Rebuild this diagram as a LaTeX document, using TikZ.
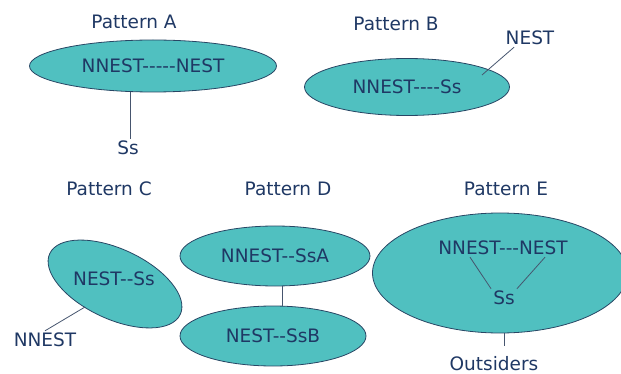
\documentclass[tikz,border=0pt]{standalone}
\usepackage{fontspec}
\setmainfont{DejaVu Sans}[Ligatures=TeXOff]
\usetikzlibrary{shapes.geometric}
\definecolor{tealfill}{RGB}{80,192,192}
\definecolor{navytext}{RGB}{31,56,100}
\definecolor{rimline}{RGB}{40,70,100}
\definecolor{linkline}{RGB}{70,85,110}
\begin{document}
\begin{tikzpicture}[x=1pt,y=-1pt,font=\fontsize{18.5}{20}\selectfont,text=navytext]
	\clip (0,0) rectangle (621,374);

	% the groups
	\begin{scope}[every node/.style={ellipse,draw=rimline,line width=0.8pt,fill=tealfill,inner sep=0pt}]
		\node[minimum width=247,minimum height=52] (A) at (153,66) {NNEST-----NEST};
		\node[minimum width=205,minimum height=57] (B) at (407,87) {NNEST----Ss};
		\node[minimum width=144,minimum height=70,rotate=-25] (C) at (115,284) {};
		\node[minimum width=190,minimum height=60] (Dtop) at (275,256) {NNEST--SsA};
		\node[minimum width=186,minimum height=60] (Dbot) at (273,336) {NEST--SsB};
		\node[minimum width=255,minimum height=120] (E) at (500,273) {};
	\end{scope}

	% titles and loose labels
	\begin{scope}[every node/.style={inner sep=2pt}]
		\node (titleA) at (134,22) {Pattern A};
		\node (titleB) at (396,24) {Pattern B};
		\node (titleC) at (109,189) {Pattern C};
		\node (titleD) at (288,189) {Pattern D};
		\node (titleE) at (506,189) {Pattern E};

		\node (Ass) at (128,148) {Ss};
		\node (Bnest) at (530,38) {NEST};
		\node (Cin) at (114,279) {NEST--Ss};
		\node (Cnnest) at (45,340) {NNEST};
		\node (Etop) at (503,248) {NNEST---NEST};
		\node (Ess) at (504,298) {Ss};
		\node (Eout) at (494,364) {Outsiders};
	\end{scope}

	% free ends
	\coordinate (a1) at (130,92);
	\coordinate (b1) at (482,75);
	\coordinate (c1) at (85,307);
	\coordinate (e1) at (504,346);

	\begin{scope}[every edge/.style={draw=linkline, line width=0.8pt}]
		\path (a1) edge (a1 |- Ass.north);
		\path (b1) edge (Bnest.210);
		\path (c1) edge (Cnnest.north);
		\path ([xshift=7pt]Dtop.south) edge ([xshift=9pt]Dbot.north);
		\path ([xshift=-33pt]Etop.south) edge (Ess.north west);
		\path ([xshift=42pt]Etop.south) edge (Ess.north east);
		\path (E.south -| e1) edge (e1);
	\end{scope}
\end{tikzpicture}
\end{document}
